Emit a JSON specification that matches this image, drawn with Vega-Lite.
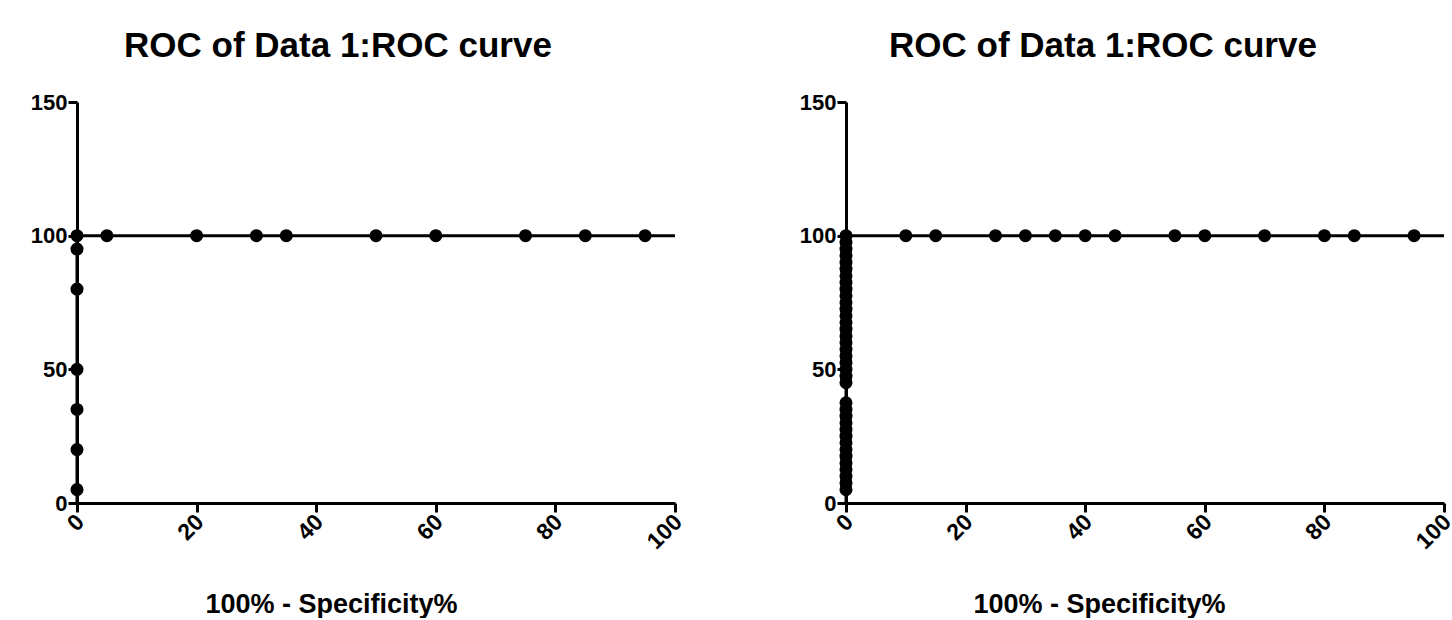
{
  "$schema": "https://vega.github.io/schema/vega-lite/v6.json",
  "background": "white",
  "padding": {"left": 30, "top": 29, "right": 0, "bottom": 0},
  "spacing": 112,
  "config": {
    "view": {"stroke": null},
    "font": "Liberation Sans",
    "axis": {
      "grid": false,
      "domainColor": "black",
      "domainWidth": 3,
      "tickColor": "black",
      "tickWidth": 3,
      "tickSize": 9,
      "labelColor": "black",
      "labelFont": "Liberation Sans",
      "labelFontWeight": "bold",
      "labelFontSize": 22,
      "titleColor": "black",
      "titleFont": "Liberation Sans",
      "titleFontWeight": "bold",
      "titleFontSize": 27
    },
    "title": {"font": "Liberation Sans", "fontWeight": "bold", "fontSize": 35, "color": "black"}
  },
  "datasets": {
    "left": [
      {"k": 0, "x": 0, "y": 0, "m": 0},
      {"k": 1, "x": 0, "y": 5, "m": 1},
      {"k": 2, "x": 0, "y": 20, "m": 1},
      {"k": 3, "x": 0, "y": 35, "m": 1},
      {"k": 4, "x": 0, "y": 50, "m": 1},
      {"k": 5, "x": 0, "y": 80, "m": 1},
      {"k": 6, "x": 0, "y": 95, "m": 1},
      {"k": 7, "x": 0, "y": 100, "m": 1},
      {"k": 8, "x": 5, "y": 100, "m": 1},
      {"k": 9, "x": 20, "y": 100, "m": 1},
      {"k": 10, "x": 30, "y": 100, "m": 1},
      {"k": 11, "x": 35, "y": 100, "m": 1},
      {"k": 12, "x": 50, "y": 100, "m": 1},
      {"k": 13, "x": 60, "y": 100, "m": 1},
      {"k": 14, "x": 75, "y": 100, "m": 1},
      {"k": 15, "x": 85, "y": 100, "m": 1},
      {"k": 16, "x": 95, "y": 100, "m": 1},
      {"k": 17, "x": 100, "y": 100, "m": 0}
    ],
    "right": [
      {"k": 0, "x": 0, "y": 0, "m": 0},
      {"k": 1, "x": 0, "y": 5, "m": 1},
      {"k": 2, "x": 0, "y": 7.5, "m": 1},
      {"k": 3, "x": 0, "y": 10, "m": 1},
      {"k": 4, "x": 0, "y": 12.5, "m": 1},
      {"k": 5, "x": 0, "y": 15, "m": 1},
      {"k": 6, "x": 0, "y": 17.5, "m": 1},
      {"k": 7, "x": 0, "y": 20, "m": 1},
      {"k": 8, "x": 0, "y": 22.5, "m": 1},
      {"k": 9, "x": 0, "y": 25, "m": 1},
      {"k": 10, "x": 0, "y": 27.5, "m": 1},
      {"k": 11, "x": 0, "y": 30, "m": 1},
      {"k": 12, "x": 0, "y": 32.5, "m": 1},
      {"k": 13, "x": 0, "y": 35, "m": 1},
      {"k": 14, "x": 0, "y": 37.5, "m": 1},
      {"k": 15, "x": 0, "y": 45, "m": 1},
      {"k": 16, "x": 0, "y": 47.5, "m": 1},
      {"k": 17, "x": 0, "y": 50, "m": 1},
      {"k": 18, "x": 0, "y": 52.5, "m": 1},
      {"k": 19, "x": 0, "y": 55, "m": 1},
      {"k": 20, "x": 0, "y": 57.5, "m": 1},
      {"k": 21, "x": 0, "y": 60, "m": 1},
      {"k": 22, "x": 0, "y": 62.5, "m": 1},
      {"k": 23, "x": 0, "y": 65, "m": 1},
      {"k": 24, "x": 0, "y": 67.5, "m": 1},
      {"k": 25, "x": 0, "y": 70, "m": 1},
      {"k": 26, "x": 0, "y": 72.5, "m": 1},
      {"k": 27, "x": 0, "y": 75, "m": 1},
      {"k": 28, "x": 0, "y": 77.5, "m": 1},
      {"k": 29, "x": 0, "y": 80, "m": 1},
      {"k": 30, "x": 0, "y": 82.5, "m": 1},
      {"k": 31, "x": 0, "y": 85, "m": 1},
      {"k": 32, "x": 0, "y": 87.5, "m": 1},
      {"k": 33, "x": 0, "y": 90, "m": 1},
      {"k": 34, "x": 0, "y": 92.5, "m": 1},
      {"k": 35, "x": 0, "y": 95, "m": 1},
      {"k": 36, "x": 0, "y": 97.5, "m": 1},
      {"k": 37, "x": 0, "y": 100, "m": 1},
      {"k": 38, "x": 10, "y": 100, "m": 1},
      {"k": 39, "x": 15, "y": 100, "m": 1},
      {"k": 40, "x": 25, "y": 100, "m": 1},
      {"k": 41, "x": 30, "y": 100, "m": 1},
      {"k": 42, "x": 35, "y": 100, "m": 1},
      {"k": 43, "x": 40, "y": 100, "m": 1},
      {"k": 44, "x": 45, "y": 100, "m": 1},
      {"k": 45, "x": 55, "y": 100, "m": 1},
      {"k": 46, "x": 60, "y": 100, "m": 1},
      {"k": 47, "x": 70, "y": 100, "m": 1},
      {"k": 48, "x": 80, "y": 100, "m": 1},
      {"k": 49, "x": 85, "y": 100, "m": 1},
      {"k": 50, "x": 95, "y": 100, "m": 1},
      {"k": 51, "x": 100, "y": 100, "m": 0}
    ]
  },
  "hconcat": [
    {
      "width": 598,
      "height": 401,
      "data": {"name": "left"},
      "title": {"text": "ROC of Data 1:ROC curve", "dx": -38, "offset": 27},
      "encoding": {
        "x": {"field": "x", "type": "quantitative", "scale": {"domain": [0, 100], "nice": false, "zero": false},
          "axis": {"values": [0, 20, 40, 60, 80, 100], "labelAngle": -45, "labelAlign": "right", "labelBaseline": "middle", "labelPadding": 6, "labelOffset": 3, "labelFontSize": 23, "title": "100% - Specificity%", "titlePadding": 38, "titleX": 254}},
        "y": {"field": "y", "type": "quantitative", "scale": {"domain": [0, 150], "nice": false},
          "axis": {"values": [0, 50, 100, 150], "title": null, "labelPadding": 1}}
      },
      "layer": [
        {"mark": {"type": "line", "color": "black", "strokeWidth": 3}, "encoding": {"order": {"field": "k", "type": "quantitative"}}},
        {"transform": [{"filter": "datum.m == 1"}], "mark": {"type": "point", "filled": true, "color": "black", "opacity": 1, "size": 170}}
      ]
    },
    {
      "width": 598,
      "height": 401,
      "data": {"name": "right"},
      "title": {"text": "ROC of Data 1:ROC curve", "dx": -42, "offset": 27},
      "encoding": {
        "x": {"field": "x", "type": "quantitative", "scale": {"domain": [0, 100], "nice": false, "zero": false},
          "axis": {"values": [0, 20, 40, 60, 80, 100], "labelAngle": -45, "labelAlign": "right", "labelBaseline": "middle", "labelPadding": 6, "labelOffset": 3, "labelFontSize": 23, "title": "100% - Specificity%", "titlePadding": 38, "titleX": 253}},
        "y": {"field": "y", "type": "quantitative", "scale": {"domain": [0, 150], "nice": false},
          "axis": {"values": [0, 50, 100, 150], "title": null, "labelPadding": 1}}
      },
      "layer": [
        {"mark": {"type": "line", "color": "black", "strokeWidth": 3}, "encoding": {"order": {"field": "k", "type": "quantitative"}}},
        {"transform": [{"filter": "datum.m == 1"}], "mark": {"type": "point", "filled": true, "color": "black", "opacity": 1, "size": 170}}
      ]
    }
  ]
}
